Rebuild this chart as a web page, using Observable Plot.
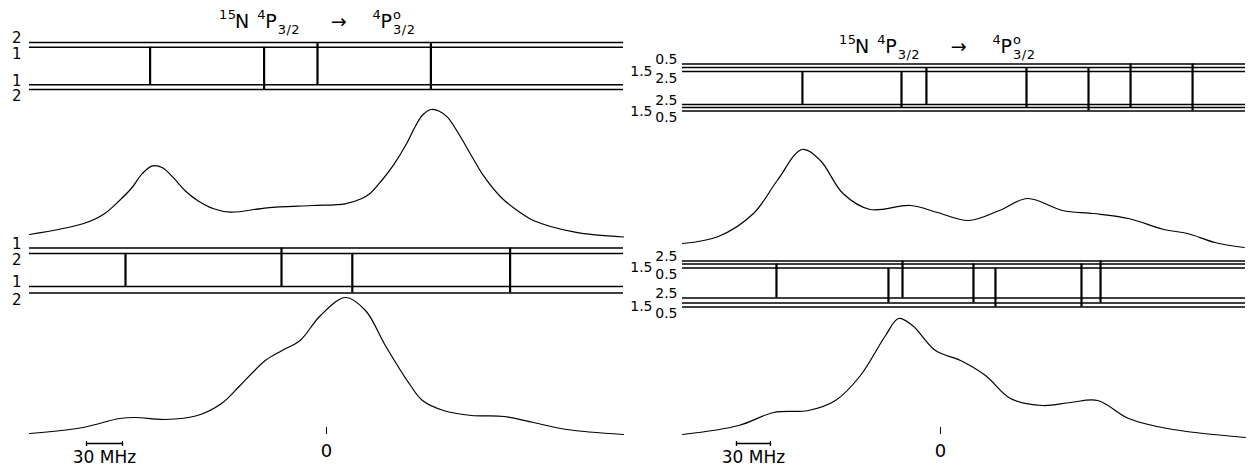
<!DOCTYPE html>
<html><head><meta charset="utf-8">
<script src="https://cdn.jsdelivr.net/npm/d3@7"></script>
<script src="https://cdn.jsdelivr.net/npm/@observablehq/plot@0.6"></script>
<style>
body{margin:0;background:#fff;}
#fig{position:relative;width:1249px;height:468px;overflow:hidden;background:#fff;font-family:"DejaVu Sans",sans-serif;color:#000;}
.part{position:absolute;}
.title{position:absolute;font-size:19px;line-height:19px;white-space:nowrap;}
.stk{position:relative;display:inline-block;height:0;vertical-align:baseline;}
.stk span{position:absolute;left:1px;font-size:13px;line-height:13px;letter-spacing:0.5px;}
.stk .hi{top:-20px;}
.stk .lo{top:-5px;}
</style></head>
<body><div id="fig"></div>
<script>
// ---------- data ----------
const titleMain = ["15", "N", "4", "P", "3/2", "→", "4", "P", "o", "3/2"];

// level diagrams: energies in arbitrary units (upper & lower term hyperfine levels)
const leftTopLevels = [
  {state: "upper", F: "2", E: 10}, {state: "upper", F: "1", E: 9},
  {state: "lower", F: "1", E: 1}, {state: "lower", F: "2", E: 0}];
const leftTopTransitions = [
  {freq: -147, upper: "1", lower: "1"}, {freq: -52, upper: "1", lower: "2"},
  {freq: -7.5, upper: "2", lower: "1"}, {freq: 87, upper: "2", lower: "2"}];
const leftBottomLevels = [
  {state: "upper", F: "1", E: 10}, {state: "upper", F: "2", E: 8.8},
  {state: "lower", F: "1", E: 1.45}, {state: "lower", F: "2", E: 0}];
const leftBottomTransitions = [
  {freq: -167.5, upper: "2", lower: "1"}, {freq: -37.5, upper: "1", lower: "1"},
  {freq: 21.5, upper: "2", lower: "2"}, {freq: 153, upper: "1", lower: "2"}];
const rightTopLevels = [
  {state: "upper", F: "0.5", E: 10}, {state: "upper", F: "1.5", E: 9.26}, {state: "upper", F: "2.5", E: 8.4},
  {state: "lower", F: "2.5", E: 1.38}, {state: "lower", F: "1.5", E: 0.745}, {state: "lower", F: "0.5", E: 0}];
const rightTopTransitions = [
  {freq: -121.8, upper: "2.5", lower: "2.5"}, {freq: -34.4, upper: "2.5", lower: "1.5"},
  {freq: -12.4, upper: "1.5", lower: "2.5"}, {freq: 75.9, upper: "1.5", lower: "1.5"},
  {freq: 130.6, upper: "1.5", lower: "0.5"}, {freq: 167.7, upper: "0.5", lower: "1.5"},
  {freq: 222.4, upper: "0.5", lower: "0.5"}];
const rightBottomLevels = [
  {state: "upper", F: "2.5", E: 10}, {state: "upper", F: "1.5", E: 9.35}, {state: "upper", F: "0.5", E: 8.48},
  {state: "lower", F: "2.5", E: 1.96}, {state: "lower", F: "1.5", E: 0.87}, {state: "lower", F: "0.5", E: 0}];
const rightBottomTransitions = [
  {freq: -144.7, upper: "1.5", lower: "2.5"}, {freq: -45.9, upper: "0.5", lower: "1.5"},
  {freq: -33.5, upper: "2.5", lower: "2.5"}, {freq: 29.1, upper: "1.5", lower: "1.5"},
  {freq: 48.5, upper: "0.5", lower: "0.5"}, {freq: 124.4, upper: "1.5", lower: "0.5"},
  {freq: 141.2, upper: "2.5", lower: "1.5"}];

// spectra: frequency offset (MHz), signal (arb. units)
const leftTopFreq   = [-247.5,-203,-186,-172.5,-162,-153.7,-145,-136.6,-128,-118,-107.5,-94,-80,-49.5,-12,15.5,29,36,46,56.5,66.7,73.6,80.5,87.3,94,100.8,111,121.5,131.7,145.4,159,172.5,207,247.5];
const leftTopSignal = [6,16.7,26,40,53,66.7,74.7,72.7,63.3,50,40,31.7,28.3,32.7,35,36.7,41.7,46.7,60,76.7,96.7,113.3,126,131,129.3,123.3,105,83.3,63.3,43.3,30,20,8.3,3.5];
const leftBottomFreq   = [-247.5,-203,-172.5,-159,-135,-107.5,-87.5,-72,-51,-37,-22,-5,16,32.5,49,70,80,97.5,121,148,172.5,200,247.5];
const leftBottomSignal = [7,13,22,23,21,25,37,55,80,90,100,125,143,130,95,55,40,30,25,24,18,11,6];
const rightTopFreq   = [-227.6,-196,-165,-144,-122,-106,-86,-62,-26.5,-2.6,24.7,52,76.8,107.7,135,166,197,218,242,268];
const rightTopSignal = [7,14,37,70,101,90,57,41,45,38,30,40,52,40,37,32,21,17,8,3];
const rightBottomFreq   = [-227.6,-178,-147,-116.5,-92.7,-70.6,-48.5,-37,-24.7,-4.4,17.7,39.7,61.8,90,114.7,138.6,166,200,269];
const rightBottomSignal = [6,15,28,30,40,65,105,122,115,90,80,65,42,35,38,40,22,12,3];

const zeroTick = [0];
const leftScaleBar = {from: -200, to: -170, label: "30 MHz"};
const rightScaleBar = {from: -180, to: -150, label: "30 MHz"};

// ---------- helpers ----------
const fig = document.getElementById("fig");
const STYLE = "background:transparent;overflow:visible;max-width:none;font-family:'DejaVu Sans',sans-serif;";

function place(node, left, top) {
  node.classList.add("part");
  node.style.left = left + "px";
  node.style.top = top + "px";
  fig.appendChild(node);
}

function title(left, top) {
  const t = titleMain;
  const div = document.createElement("div");
  div.className = "title";
  div.innerHTML =
    `<span class="stk" style="width:17px"><span class="hi">${t[0]}</span></span>${t[1]}` +
    `<span style="display:inline-block;width:7px"></span>` +
    `<span class="stk" style="width:9px"><span class="hi">${t[2]}</span></span>${t[3]}` +
    `<span class="stk" style="width:24px"><span class="lo">${t[4]}</span></span>` +
    `<span style="display:inline-block;width:30px"></span>${t[5]}<span style="display:inline-block;width:25px"></span>` +
    `<span class="stk" style="width:9px"><span class="hi">${t[6]}</span></span>${t[7]}` +
    `<span class="stk" style="width:24px"><span class="hi">${t[8]}</span><span class="lo">${t[9]}</span></span>`;
  div.style.left = left + "px";
  div.style.top = top + "px";
  fig.appendChild(div);
}

function withPos(levels) {
  return levels.map(d => {
    const grp = levels.filter(e => e.state === d.state).map(e => e.E);
    const pos = d.E === d3.max(grp) ? "top" : d.E === d3.min(grp) ? "bottom" : "mid";
    return {...d, pos};
  });
}

function diagram(levels, transitions, g) {
  const L = withPos(levels);
  const E = new Map(L.map(d => [d.state + d.F, d.E]));
  const T = transitions.map(t => ({freq: t.freq, y1: E.get("upper" + t.upper), y2: E.get("lower" + t.lower)}));
  const three = levels.length === 6;
  const txt = (pos, dx, dy) => Plot.text(L.filter(d => d.pos === pos), {
    y: "E", text: "F", frameAnchor: "left", textAnchor: "end", lineAnchor: "middle",
    dx, dy, fontSize: three ? 14 : 15, fill: "black"});
  return Plot.plot({
    width: g.width, height: g.height,
    marginLeft: g.mL, marginRight: g.mR, marginTop: g.mT, marginBottom: g.mB,
    style: STYLE,
    x: {domain: g.domain, axis: null},
    y: {domain: [0, 10], axis: null},
    marks: [
      Plot.ruleY(L, {y: "E", stroke: "black", strokeWidth: 1.5}),
      Plot.ruleX(T, {x: "freq", y1: "y1", y2: "y2", stroke: "black", strokeWidth: 2.2}),
      three ? txt("top", -5, -4) : txt("top", -8, -4),
      three ? txt("mid", -30, 4) : null,
      three ? txt("bottom", -5, 7) : txt("bottom", -8, 7)
    ]
  });
}

function spectrum(freq, signal, g) {
  const data = freq.map((f, i) => ({f, s: signal[i]}));
  return Plot.plot({
    width: g.width, height: g.height,
    marginLeft: g.mL, marginRight: g.mR, marginTop: 5, marginBottom: 5,
    style: STYLE,
    x: {domain: g.domain, axis: null},
    y: {domain: [0, g.ymax], axis: null},
    marks: [Plot.line(data, {x: "f", y: "s", curve: "catmull-rom", stroke: "black", strokeWidth: 1.2})]
  });
}

function scaleRow(bar, g) {
  return Plot.plot({
    width: g.width, height: 48,
    marginLeft: g.mL, marginRight: g.mR, marginTop: 7, marginBottom: 41,
    style: STYLE + "font-size:18px;",
    x: {domain: g.domain},
    marks: [
      Plot.axisX(zeroTick, {tickSize: 7, tickPadding: 10, label: null, stroke: "black", fill: "black", fontSize: 18}),
      Plot.ruleY([bar], {y: null, x1: "from", x2: "to", dy: 16, stroke: "black", strokeWidth: 1.3}),
      Plot.ruleX([bar.from, bar.to], {insetTop: 14, insetBottom: -19, stroke: "black", strokeWidth: 1.3}),
      Plot.text([bar], {x: d => (d.from + d.to) / 2, text: "label", dy: 30, fontSize: 17, fill: "black"})
    ]
  });
}

// ---------- left panel ----------
const GL = {width: 640, mL: 29, mR: 17, domain: [-247.5, 247.5]};
title(218, 12);
place(diagram(leftTopLevels, leftTopTransitions, {...GL, height: 100, mT: 42, mB: 11}), 0, 0);
place(spectrum(leftTopFreq, leftTopSignal, {...GL, height: 150, ymax: 140}), 0, 95);
place(diagram(leftBottomLevels, leftBottomTransitions, {...GL, height: 100, mT: 47.5, mB: 7.5}), 0, 200);
place(spectrum(leftBottomFreq, leftBottomSignal, {...GL, height: 160, ymax: 150}), 0, 285);
place(scaleRow(leftScaleBar, GL), 0, 420);

// ---------- right panel ----------
const GR = {width: 609, mL: 42, mR: 4, domain: [-227.6, 269.1]};
title(838, 37);
place(diagram(rightTopLevels, rightTopTransitions, {...GR, height: 100, mT: 43.5, mB: 9.5}), 640, 20);
place(spectrum(rightTopFreq, rightTopSignal, {...GR, height: 120, ymax: 110}), 640, 135);
place(diagram(rightBottomLevels, rightBottomTransitions, {...GR, height: 100, mT: 40.5, mB: 13.5}), 640, 220);
place(spectrum(rightBottomFreq, rightBottomSignal, {...GR, height: 160, ymax: 150}), 640, 285);
place(scaleRow(rightScaleBar, GR), 640, 420);
</script>
</body></html>
